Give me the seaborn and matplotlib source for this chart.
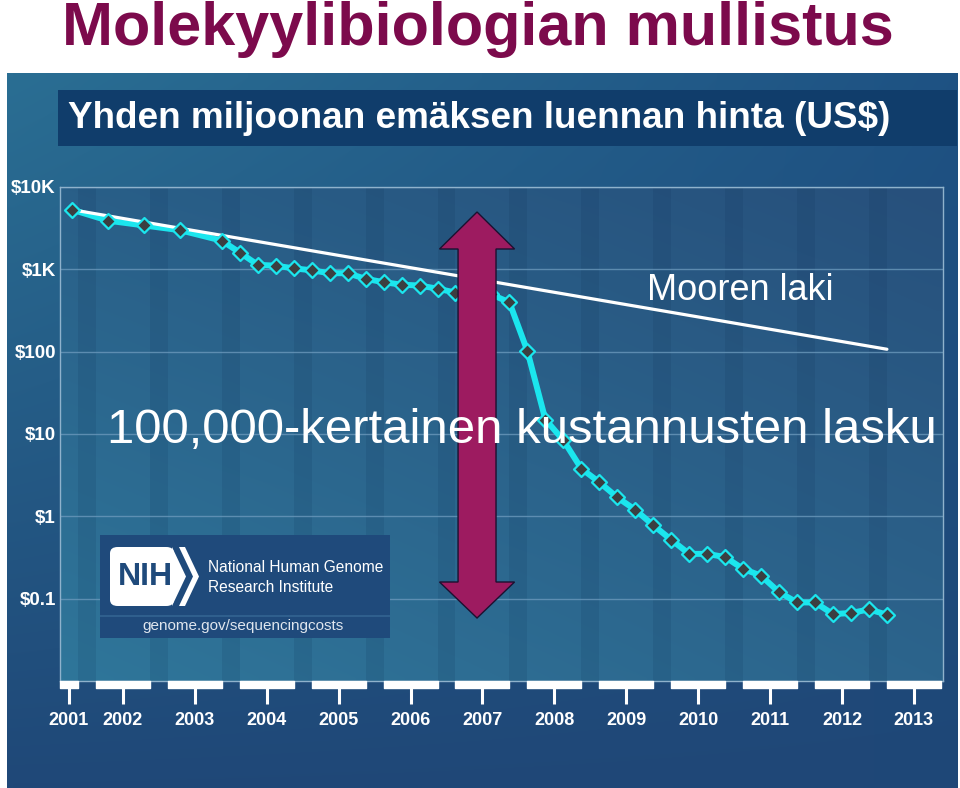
import numpy as np
import pandas as pd
import matplotlib
matplotlib.use("Agg")
import matplotlib.pyplot as plt
import seaborn as sns
from matplotlib.patches import Rectangle, Polygon, FancyBboxPatch
from matplotlib.colors import to_rgb

# ---------------- data ----------------
dates = [2001.67, 2002.17, 2002.67, 2003.17, 2003.75,
         2004.00, 2004.25, 2004.50, 2004.75,
         2005.00, 2005.25, 2005.50, 2005.75,
         2006.00, 2006.25, 2006.50, 2006.75,
         2007.00, 2007.25, 2007.50, 2007.75,
         2008.00, 2008.25, 2008.50, 2008.75,
         2009.00, 2009.25, 2009.50, 2009.75,
         2010.00, 2010.25, 2010.50, 2010.75,
         2011.00, 2011.25, 2011.50, 2011.75,
         2012.00, 2012.25, 2012.50, 2012.75,
         2013.00]
cost = [5292, 3898, 3413, 2987, 2230,
        1599, 1135, 1107, 1028,
        974, 897, 898, 766,
        699, 651, 636, 582,
        522, 502, 495, 397,
        102, 15.0, 8.4, 3.8,
        2.6, 1.7, 1.2, 0.78,
        0.52, 0.35, 0.35, 0.32,
        0.23, 0.19, 0.12, 0.09,
        0.09, 0.065, 0.067, 0.074,
        0.064]
moore_x = [2001.67, 2013.0]
moore_y = [5292, 107]

year_labels = ["2001", "2002", "2003", "2004", "2005", "2006", "2007",
               "2008", "2009", "2010", "2011", "2012", "2013"]
year_ticks = [2001.625, 2002.375, 2003.375, 2004.375, 2005.375, 2006.375,
              2007.375, 2008.375, 2009.375, 2010.375, 2011.375, 2012.375,
              2013.375]
ytick_vals = [0.1, 1, 10, 100, 1000, 10000]
ytick_labels = ["$0.1", "$1", "$10", "$100", "$1K", "$10K"]

title = "Molekyylibiologian mullistus"
subtitle = "Yhden miljoonan emäksen luennan hinta (US$)"
moore_label = "Mooren laki"
drop_label = "100,000-kertainen kustannusten lasku"

# ---------------- figure ----------------
W, H = 960, 788
sns.set_style("white")
plt.rcParams["font.family"] = ["Liberation Sans", "DejaVu Sans"]
fig = plt.figure(figsize=(W / 100, H / 100), dpi=100)
fig.patch.set_facecolor("white")


def fx(x):
    return x / W


def fy(y):
    return 1 - y / H


def grad(tl, tr, bl, br, n=80):
    tl, tr, bl, br = [np.array(to_rgb(c)) for c in (tl, tr, bl, br)]
    u = np.linspace(0, 1, n)[None, :, None]
    v = np.linspace(0, 1, n)[:, None, None]
    top = tl * (1 - u) + tr * u
    bot = bl * (1 - u) + br * u
    return top * (1 - v) + bot * v


# outer frame
frame = fig.add_axes([fx(7), 0, (957 - 7) / W, (788 - 73) / H], zorder=-5)
frame.imshow(grad("#2a6e93", "#1e5283", "#1f4878", "#1f4777"),
             extent=[0, 1, 0, 1], aspect="auto", interpolation="bilinear")
frame.add_patch(Rectangle(((58 - 7) / 950, (788 - 146) / 715), 1, 56 / 715,
                          color="#103d6b", lw=0))
frame.set_xlim(0, 1)
frame.set_ylim(0, 1)
frame.set_axis_off()

# plot area
L, R, T, B = 60, 943, 187, 681
pos = [fx(L), fy(B), (R - L) / W, (B - T) / H]
bg = fig.add_axes(pos, zorder=-4)
bg.imshow(grad("#295f88", "#27507c", "#2f769a", "#2c648c"),
          extent=[0, 1, 0, 1], aspect="auto", interpolation="bilinear")
bg.set_axis_off()

ax = fig.add_axes(pos, zorder=1)
ax.set_facecolor("none")
ax.set_yscale("log")
x0, x1 = 2001.5, 2013.78
ax.set_xlim(x0, x1)
ax.set_ylim(0.01, 10000)

# darker quarterly stripes (Q4 of each year)
for yr in range(2002, 2014):
    ax.axvspan(yr - 0.25, yr, color="#0a2a50", alpha=0.12, lw=0, zorder=0)

ax.grid(axis="y", color="#6a98bb", lw=1, alpha=0.8, zorder=1)
ax.grid(axis="x", visible=False)
for s in ax.spines.values():
    s.set_color("#8fb2cc")
    s.set_linewidth(1)

df = pd.DataFrame({"date": dates, "cost": cost})
cyan = "#1be6ee"
sns.lineplot(data=df, x="date", y="cost", ax=ax, color=cyan, lw=4.3,
             zorder=3)
sns.lineplot(x=moore_x, y=moore_y, ax=ax, color="white", lw=2.3, zorder=4)
sns.scatterplot(data=df, x="date", y="cost", ax=ax, marker="D", s=58,
                color="#3b3f41", edgecolor=cyan, linewidth=1.6, zorder=5)

ax.set_xlabel("")
ax.set_ylabel("")
ax.set_xticks(year_ticks, year_labels)
ax.set_yticks(ytick_vals, ytick_labels)
ax.minorticks_off()
ax.tick_params(axis="x", bottom=True, length=16.5, width=2.2, color="white",
               pad=6, labelsize=13, labelcolor="white")
ax.tick_params(axis="y", left=False, length=0, pad=3, labelsize=13.5,
               labelcolor="white")
for lbl in ax.get_xticklabels() + ax.get_yticklabels():
    lbl.set_fontweight("bold")

# white bars under the axis (Q1-Q3 of each year)
spans = [(x0, 2001.75 - x0)] + [(yr, 0.75) for yr in range(2002, 2014)]
ax.broken_barh(spans, (-7 / (B - T), 7 / (B - T)), facecolors="white",
               transform=ax.get_xaxis_transform(), clip_on=False, zorder=6)

# double arrow
cx, hs, hh = 0.4723, 0.0215, 0.0425
yt, yhb, ybb, yb = 0.9494, 0.8745, 0.2004, 0.1275
arrow = Polygon([(cx, yt), (cx + hh, yhb), (cx + hs, yhb), (cx + hs, ybb),
                 (cx + hh, ybb), (cx, yb), (cx - hh, ybb), (cx - hs, ybb),
                 (cx - hs, yhb), (cx - hh, yhb)], closed=True,
                transform=ax.transAxes, facecolor="#9d1b60",
                edgecolor="#1c1030", lw=1.0, zorder=7)
ax.add_patch(arrow)

# texts
fig.text(fx(478), fy(29), title, ha="center", va="center", fontsize=44,
         fontweight="bold", color="#7c0a4c")
fig.text(fx(68), fy(119), subtitle, ha="left", va="center", fontsize=26.6,
         fontweight="bold", color="white")
fig.text(fx(647), fy(300), moore_label, ha="left", va="baseline",
         fontsize=26, color="white", zorder=8)
fig.text(fx(107), fy(443), drop_label, ha="left", va="baseline",
         fontsize=35.4, color="white", zorder=8)

# NIH box
def frect(x0_, y0_, x1_, y1_, **kw):
    return Rectangle((fx(x0_), fy(y1_)), (x1_ - x0_) / W, (y1_ - y0_) / H,
                     transform=fig.transFigure, **kw)

fig.add_artist(frect(100, 535, 390, 638, facecolor="#1f4a7b", lw=0,
                     zorder=9))
fig.add_artist(frect(100, 615, 390, 617, facecolor="#2f5f8d", lw=0,
                     zorder=9))
fig.add_artist(FancyBboxPatch((fx(110), fy(606)), (174 - 110) / W,
                              (606 - 547) / H,
                              boxstyle="round,pad=0,rounding_size=0.008",
                              transform=fig.transFigure, facecolor="white",
                              lw=0, zorder=10))
fig.add_artist(Polygon([(fx(172), fy(547)), (fx(186), fy(576.5)),
                        (fx(172), fy(606))], closed=True,
                       transform=fig.transFigure, facecolor="white", lw=0,
                       zorder=10))
fig.add_artist(Polygon([(fx(179), fy(547)), (fx(185), fy(547)),
                        (fx(199), fy(576.5)), (fx(185), fy(606)),
                        (fx(179), fy(606)), (fx(193), fy(576.5))],
                       closed=True, transform=fig.transFigure,
                       facecolor="white", lw=0, zorder=10))
fig.text(fx(145), fy(577), "NIH", ha="center", va="center", fontsize=23,
         fontweight="bold", color="#1f4a7b", zorder=11)
fig.text(fx(208), fy(568), "National Human Genome", ha="left", va="center",
         fontsize=11.2, color="white", zorder=11)
fig.text(fx(208), fy(587), "Research Institute", ha="left", va="center",
         fontsize=11.2, color="white", zorder=11)
fig.text(fx(243), fy(626), "genome.gov/sequencingcosts", ha="center",
         va="center", fontsize=11, color="#dfe6ee", zorder=11)

fig.savefig("out.png", dpi=100)
